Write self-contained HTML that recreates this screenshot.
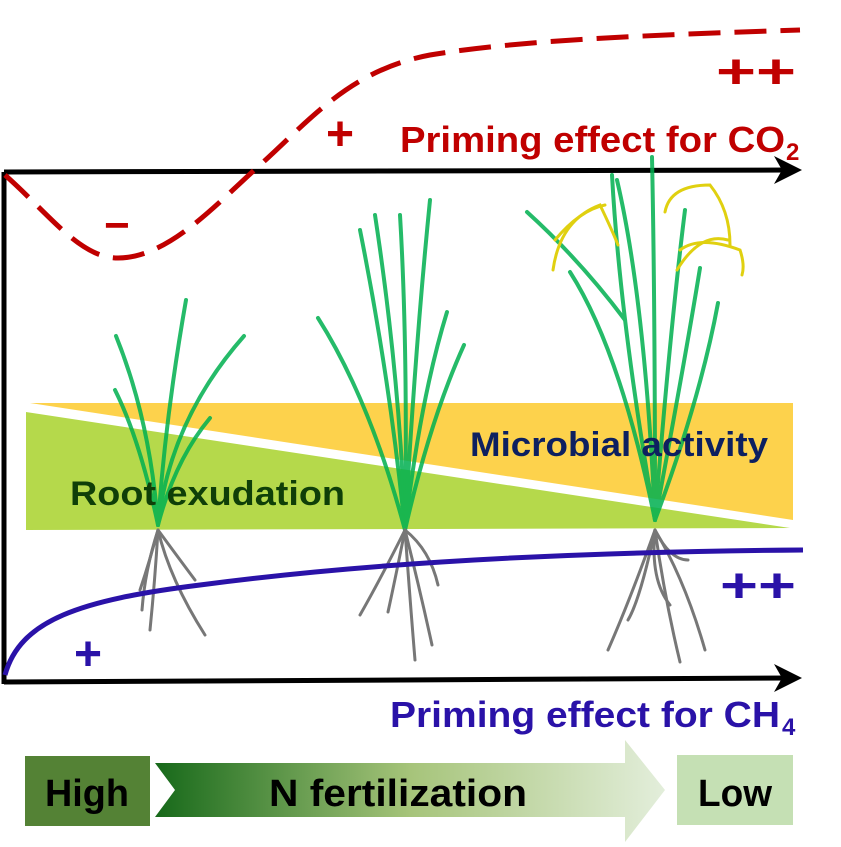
<!DOCTYPE html>
<html><head><meta charset="utf-8"><style>
body{margin:0;background:#fff;width:841px;height:847px;overflow:hidden}
svg{display:block}
text{font-family:"Liberation Sans",sans-serif;font-weight:bold}
</style></head><body>
<svg width="841" height="847" viewBox="0 0 841 847">
<defs>
<linearGradient id="g" x1="0" x2="1"><stop offset="0" stop-color="#17691a"/><stop offset="0.5" stop-color="#a6c47a"/><stop offset="1" stop-color="#e3eedb"/></linearGradient>
</defs>
<polygon points="30,403 793,403 793,520" fill="#fdd24c"/>
<polygon points="26,412 790,528 26,530" fill="#b5d94b"/>
<line x1="4" y1="172" x2="4" y2="684" stroke="#000" stroke-width="5"/>
<line x1="4" y1="172" x2="790" y2="170" stroke="#000" stroke-width="5"/>
<polygon points="802,170 774,156 782,170 774,184" fill="#000"/>
<line x1="4" y1="682" x2="790" y2="678" stroke="#000" stroke-width="5"/>
<polygon points="802,678 774,664 782,678 774,692" fill="#000"/>
<path d="M5,175 C50,215 80,258 118,258 C170,258 220,200 260,165 C310,120 350,70 430,55 C520,40 650,35 800,30" fill="none" stroke="#c00000" stroke-width="5" stroke-dasharray="32,14"/>
<text x="104" y="240" fill="#c00000" font-size="44">−</text>
<text x="326" y="150" fill="#c00000" font-size="48">+</text>
<text x="716" y="88" fill="#c00000" font-size="48" textLength="80" lengthAdjust="spacingAndGlyphs">++</text>
<text x="400" y="152" fill="#c00000" font-size="36" textLength="385" lengthAdjust="spacingAndGlyphs">Priming effect for CO</text><text x="786" y="160" fill="#c00000" font-size="24">2</text>
<g fill="none" stroke="#00b050" stroke-width="4" stroke-linecap="round" opacity="0.85">
<path d="M158,525 Q150,420 116,336"/><path d="M158,525 Q165,420 186,300"/><path d="M158,525 Q170,420 244,336"/><path d="M158,525 Q140,440 115,390"/><path d="M158,525 Q175,460 210,418"/>
<path d="M405,530 Q370,400 318,318"/><path d="M405,530 Q390,380 360,230"/><path d="M405,530 Q400,380 375,215"/><path d="M405,530 Q408,350 400,215"/><path d="M405,530 Q415,350 430,200"/><path d="M405,530 Q420,400 447,312"/><path d="M405,530 Q430,420 464,345"/>
<path d="M655,520 Q620,350 570,272"/><path d="M655,520 Q620,320 612,175"/><path d="M655,520 Q645,300 617,180"/><path d="M655,520 Q655,300 652,157"/><path d="M655,520 Q670,330 685,210"/><path d="M655,520 Q685,360 700,268"/><path d="M655,520 Q700,400 718,303"/><path d="M625,320 Q580,260 527,212"/>
</g>
<g fill="none" stroke="#e0d010" stroke-width="3" stroke-linecap="round">
<path d="M553,270 Q560,220 600,205 Q612,230 618,245"/><path d="M555,240 Q580,210 605,205"/>
<path d="M665,212 Q670,185 710,185 Q730,210 730,245"/><path d="M680,250 Q700,235 740,250 Q745,265 742,275"/><path d="M677,270 Q700,232 728,240"/>
</g>
<g fill="none" stroke="#777" stroke-width="3" stroke-linecap="round">
<path d="M158,530 Q145,570 142,610"/><path d="M158,530 Q155,580 150,630"/><path d="M158,530 Q170,580 205,635"/><path d="M158,530 Q180,560 195,580"/><path d="M158,530 Q150,560 140,590"/>
<path d="M405,530 Q380,580 360,615"/><path d="M405,530 Q395,580 388,612"/><path d="M405,530 Q410,600 415,660"/><path d="M405,530 Q420,590 432,645"/><path d="M405,530 Q430,550 438,585"/>
<path d="M655,530 Q630,600 608,650"/><path d="M655,530 Q640,600 628,620"/><path d="M655,530 Q665,600 680,662"/><path d="M655,530 Q685,580 705,650"/><path d="M655,530 Q670,560 688,560"/><path d="M655,530 Q650,580 670,605"/>
</g>
<path d="M5,675 C20,620 80,600 200,585 C350,565 550,552 803,550" fill="none" stroke="#2a12a8" stroke-width="5"/>
<text x="74" y="670" fill="#2a12a8" font-size="48">+</text>
<text x="720" y="602" fill="#2a12a8" font-size="48" textLength="76" lengthAdjust="spacingAndGlyphs">++</text>
<text x="390" y="727" fill="#2a12a8" font-size="36" textLength="390" lengthAdjust="spacingAndGlyphs">Priming effect for CH</text><text x="782" y="735" fill="#2a12a8" font-size="24">4</text>
<text x="470" y="456" fill="#0d2060" font-size="34" textLength="298" lengthAdjust="spacingAndGlyphs">Microbial activity</text>
<text x="70" y="505" fill="#0f3f08" font-size="34" textLength="275" lengthAdjust="spacingAndGlyphs">Root  exudation</text>
<rect x="25" y="756" width="125" height="70" fill="#548235"/>
<text x="87" y="806" font-size="38" text-anchor="middle" fill="#000" textLength="84" lengthAdjust="spacingAndGlyphs">High</text>
<polygon points="155,763 625,763 625,740 665,790 625,842 625,817 155,817 175,790" fill="url(#g)"/>
<text x="398" y="806" font-size="38" text-anchor="middle" fill="#000" textLength="258" lengthAdjust="spacingAndGlyphs">N fertilization</text>
<rect x="677" y="755" width="116" height="70" fill="#c5e0b4"/>
<text x="735" y="806" font-size="38" text-anchor="middle" fill="#000" textLength="74" lengthAdjust="spacingAndGlyphs">Low</text>
</svg>
</body></html>
